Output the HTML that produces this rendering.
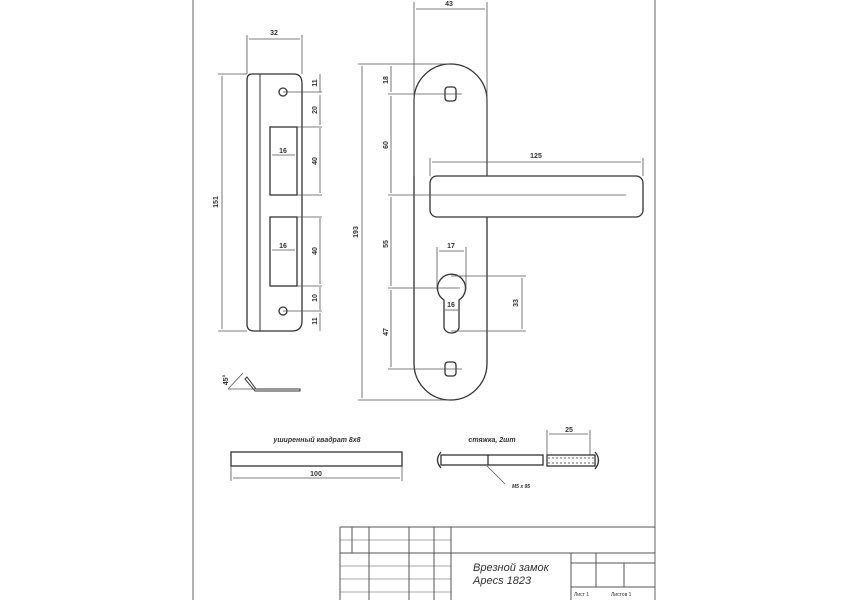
<!DOCTYPE html>
<html><head><meta charset="utf-8"><style>
html,body{margin:0;padding:0;background:#fff;}
svg{display:block;}
text{font-family:"Liberation Sans",sans-serif;fill:#333;}
</style></head><body>
<svg width="850" height="600" viewBox="0 0 850 600" xmlns="http://www.w3.org/2000/svg">
<g stroke="#333" fill="none" stroke-width="1.3">
<line x1="193" y1="0" x2="193" y2="600" stroke="#999" stroke-width="1.5"/>
<line x1="655" y1="0" x2="655" y2="600" stroke="#999" stroke-width="1.5"/>

<path d="M252 74 H294 Q302 74 302 84 V321 Q302 331 292 331 H254 Q247 331 247 324 V80 Q247 74 252 74 Z"/>
<line x1="260" y1="74" x2="260" y2="331" stroke-width="1"/>
<circle cx="283" cy="92" r="4"/><circle cx="283" cy="311" r="4"/>
<rect x="270" y="127" width="27" height="68"/>
<rect x="270" y="217" width="27" height="69"/>
<g stroke-width="0.8" stroke="#555">
<line x1="247" y1="35" x2="247" y2="74"/><line x1="302" y1="35" x2="302" y2="74"/>
<line x1="249" y1="39" x2="300" y2="39"/>
<line x1="218" y1="74" x2="247" y2="74"/><line x1="218" y1="331" x2="247" y2="331"/>
<line x1="222" y1="76" x2="222" y2="329"/>
<line x1="320" y1="74" x2="320" y2="92"/><line x1="320" y1="95" x2="320" y2="125"/>
<line x1="320" y1="128" x2="320" y2="193"/><line x1="320" y1="218" x2="320" y2="284"/>
<line x1="320" y1="287" x2="320" y2="310"/><line x1="320" y1="313" x2="320" y2="331"/>
<line x1="297" y1="127" x2="322" y2="127"/><line x1="297" y1="195" x2="322" y2="195"/>
<line x1="297" y1="217" x2="322" y2="217"/><line x1="297" y1="286" x2="322" y2="286"/>
<line x1="283" y1="92" x2="322" y2="92"/><line x1="283" y1="311" x2="322" y2="311"/>
<line x1="272" y1="155" x2="295" y2="155"/><line x1="272" y1="250" x2="295" y2="250"/>
<line x1="228" y1="389" x2="300" y2="389"/>
<line x1="228" y1="389" x2="243" y2="373"/>
</g>
<path d="M247 377 L256 389 H300 V391 H255 L245 379 Z" stroke-width="1"/>

<rect x="414" y="64" width="73" height="336" rx="36.5" ry="36.5"/>
<rect x="445" y="87" width="11" height="14" rx="3"/>
<rect x="445" y="362" width="11" height="14" rx="3"/>
<path d="M444 300 A14 14 0 1 1 459 300 L459 327 A7.5 6 0 0 1 444 327 Z"/>
<rect x="430" y="176" width="213" height="41" rx="7" fill="#fff"/>
<g stroke-width="0.8" stroke="#555">
<line x1="414" y1="2" x2="414" y2="176"/><line x1="487" y1="2" x2="487" y2="176"/>
<line x1="416" y1="9" x2="485" y2="9"/>
<line x1="358" y1="64" x2="450" y2="64"/><line x1="358" y1="400" x2="450" y2="400"/>
<line x1="362" y1="66" x2="362" y2="398"/>
<line x1="391" y1="66" x2="391" y2="92"/><line x1="391" y1="96" x2="391" y2="193"/>
<line x1="391" y1="197" x2="391" y2="286"/><line x1="391" y1="290" x2="391" y2="367"/>
<line x1="388" y1="94" x2="462" y2="94"/><line x1="388" y1="195" x2="626" y2="195"/>
<line x1="388" y1="288" x2="460" y2="288"/><line x1="388" y1="369" x2="462" y2="369"/>
<line x1="430" y1="158" x2="430" y2="176"/><line x1="643" y1="158" x2="643" y2="176"/>
<line x1="432" y1="162" x2="641" y2="162"/>
<line x1="437" y1="247" x2="437" y2="290"/><line x1="466" y1="247" x2="466" y2="290"/>
<line x1="439" y1="251" x2="464" y2="251"/>
<line x1="451" y1="276" x2="526" y2="276"/><line x1="451" y1="331" x2="526" y2="331"/>
<line x1="522" y1="278" x2="522" y2="329"/>
<line x1="445" y1="310" x2="458" y2="310"/>
</g>

<rect x="231" y="452" width="171" height="14"/>
<g stroke-width="0.8" stroke="#555">
<line x1="231" y1="466" x2="231" y2="481"/><line x1="402" y1="466" x2="402" y2="481"/>
<line x1="233" y1="478" x2="400" y2="478"/>
</g>
<path d="M441 452 Q434 460 441 468"/>
<rect x="441" y="455" width="102" height="10"/>
<line x1="488" y1="455" x2="488" y2="465"/>
<rect x="547" y="455" width="48" height="11"/>
<path d="M595 452 Q602 460 595 469"/>
<line x1="548" y1="458" x2="594" y2="458" stroke-dasharray="2 2" stroke-width="0.7"/>
<line x1="548" y1="463" x2="594" y2="463" stroke-dasharray="2 2" stroke-width="0.7"/>
<g stroke-width="0.8" stroke="#555">
<line x1="547" y1="430" x2="547" y2="455"/><line x1="590" y1="430" x2="590" y2="455"/>
<line x1="549" y1="434" x2="588" y2="434"/>
<line x1="487" y1="466" x2="505" y2="484"/>
</g>

<g stroke-width="1" stroke="#555">
<line x1="340" y1="527" x2="655" y2="527"/>
<line x1="340" y1="527" x2="340" y2="600"/>
<line x1="352" y1="527" x2="352" y2="553"/>
<line x1="369" y1="527" x2="369" y2="600"/>
<line x1="409" y1="527" x2="409" y2="600"/>
<line x1="434" y1="527" x2="434" y2="600"/>
<line x1="451" y1="527" x2="451" y2="600"/>
<line x1="340" y1="553" x2="655" y2="553"/>
<line x1="571" y1="553" x2="571" y2="600"/>
<line x1="596" y1="553" x2="596" y2="587"/>
<line x1="624" y1="563" x2="624" y2="587"/>
<line x1="571" y1="563" x2="655" y2="563"/>
<line x1="571" y1="587" x2="655" y2="587"/>
<line x1="340" y1="540" x2="451" y2="540" stroke-width="0.5"/>
<line x1="340" y1="566" x2="451" y2="566" stroke-width="0.5"/>
<line x1="340" y1="579" x2="451" y2="579" stroke-width="0.5"/>
<line x1="340" y1="592" x2="451" y2="592" stroke-width="0.5"/>
</g>
</g>

<g font-size="7" font-weight="bold">
<text x="274" y="35" text-anchor="middle">32</text>
<text x="449" y="6" text-anchor="middle">43</text>
<text x="536" y="158" text-anchor="middle">125</text>
<text x="451" y="248" text-anchor="middle">17</text>
<text x="451" y="307" text-anchor="middle">16</text>
<text x="283" y="153" text-anchor="middle">16</text>
<text x="283" y="248" text-anchor="middle">16</text>
<text x="316" y="476" text-anchor="middle">100</text>
<text x="569" y="432" text-anchor="middle">25</text>
<text transform="translate(218,202) rotate(-90)" text-anchor="middle">151</text>
<text transform="translate(358,232) rotate(-90)" text-anchor="middle">193</text>
<text transform="translate(388,80) rotate(-90)" text-anchor="middle">18</text>
<text transform="translate(388,145) rotate(-90)" text-anchor="middle">60</text>
<text transform="translate(388,244) rotate(-90)" text-anchor="middle">55</text>
<text transform="translate(388,332) rotate(-90)" text-anchor="middle">47</text>
<text transform="translate(518,303) rotate(-90)" text-anchor="middle">33</text>
<text transform="translate(317,83) rotate(-90)" text-anchor="middle">11</text>
<text transform="translate(317,110) rotate(-90)" text-anchor="middle">20</text>
<text transform="translate(317,161) rotate(-90)" text-anchor="middle">40</text>
<text transform="translate(317,251) rotate(-90)" text-anchor="middle">40</text>
<text transform="translate(317,298) rotate(-90)" text-anchor="middle">10</text>
<text transform="translate(317,321) rotate(-90)" text-anchor="middle">11</text>
<text transform="translate(228,380) rotate(-90)" text-anchor="middle">45°</text>
</g>
<g font-size="7" font-style="italic" font-weight="bold">
<text x="317" y="442" text-anchor="middle">уширенный квадрат 8x8</text>
<text x="492" y="442" text-anchor="middle">стяжка, 2шт</text>
<text x="512" y="488" font-size="5">M5 x 95</text>
</g>
<g font-style="italic" font-size="11">
<text x="473" y="571">Врезной замок</text>
<text x="473" y="584">Apecs 1823</text>
</g>
<g font-size="5">
<text x="574" y="596">Лист 1</text>
<text x="611" y="596">Листов 1</text>
</g>
</svg>
</body></html>
